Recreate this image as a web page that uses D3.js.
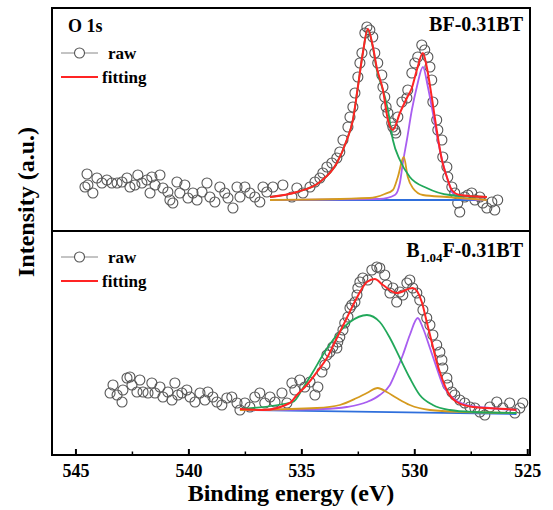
<!DOCTYPE html>
<html>
<head>
<meta charset="utf-8">
<script src="https://cdn.jsdelivr.net/npm/d3@7"></script>
<style>
	body { margin: 0; background: #fff; }
	text { font-family: "Liberation Serif", "Times New Roman", serif; font-weight: bold; }
</style>
</head>
<body>
<div id="chart"></div>
<script>
const width = 553,
			height = 510;

const margin = { left: 52, right: 23, top: 8, bottom: 55 };

// x ticks (binding energy, eV)
const majorTicks = [545, 540, 535, 530, 525];
const minorTicks = [542.5, 537.5, 532.5, 527.5];

// ---- BF-0.31BT (top panel) ----
// raw points [eV, intensity]
const rawTop = [
	[544.60, 44], [544.51, 57], [544.47, 46], [544.25, 38], [544.07, 53], [543.85, 48],
	[543.63, 51], [543.41, 48], [543.18, 48], [542.96, 49], [542.74, 53], [542.61, 44],
	[542.39, 46], [542.26, 56], [542.08, 48], [541.86, 51], [541.72, 38], [541.64, 54],
	[541.50, 46], [541.28, 56], [541.15, 43], [540.93, 39], [540.84, 31], [540.71, 28],
	[540.53, 49], [540.40, 38], [540.18, 46], [540.04, 33], [539.82, 38], [539.64, 31],
	[539.42, 39], [539.20, 48], [539.07, 34], [538.85, 29], [538.63, 44], [538.41, 38],
	[538.27, 33], [538.05, 23], [537.87, 44], [537.74, 34], [537.52, 44], [537.30, 38],
	[537.08, 34], [536.86, 29], [536.72, 44], [536.55, 39], [536.28, 44], [535.84, 46],
	[535.44, 34], [535.22, 43], [534.95, 38], [534.64, 44], [534.42, 49], [534.20, 53],
	[534.07, 58], [533.89, 64], [533.67, 68], [533.45, 73], [533.32, 79], [533.18, 91],
	[532.96, 104], [532.87, 114], [532.74, 124], [532.65, 138], [532.52, 154], [532.43, 168],
	[532.34, 178], [532.21, 198], [532.12, 204], [531.99, 201], [531.86, 194], [531.77, 178],
	[531.64, 168], [531.46, 156], [531.41, 144], [531.33, 134], [531.27, 124], [531.19, 118],
	[531.02, 108], [530.97, 104], [530.88, 101], [530.84, 98], [530.75, 114], [530.57, 129],
	[530.35, 133], [530.31, 141], [530.13, 158], [530.00, 168], [529.87, 174], [529.69, 186],
	[529.56, 181], [529.42, 174], [529.33, 164], [529.25, 151], [529.20, 129], [529.03, 111],
	[528.98, 101], [528.80, 91], [528.76, 74], [528.58, 64], [528.54, 54], [528.36, 44],
	[528.23, 38], [528.10, 28], [528.01, 19], [527.79, 34], [527.65, 36], [527.48, 38],
	[527.34, 31], [527.12, 34], [526.99, 28], [526.81, 23], [526.59, 29], [526.46, 21],
	[526.33, 31]
];
const baseTop = [[536.41, 31], [526.81, 31]];
const peak532Top = [
	[536.41, 34], [535.22, 39], [534.20, 49], [533.45, 68], [533.01, 91], [532.74, 111],
	[532.52, 144], [532.30, 178], [532.08, 201], [531.86, 184], [531.68, 161], [531.41, 141],
	[531.19, 121], [530.97, 91], [530.66, 71], [530.22, 54], [529.47, 43], [528.45, 36],
	[526.81, 34]
];
const peak530Top = [
	[536.41, 31], [531.99, 33], [531.33, 37], [530.97, 41], [530.75, 54], [530.49, 74],
	[530.31, 54], [530.09, 43], [529.64, 36], [528.58, 34], [526.81, 31]
];
const peak529Top = [
	[536.41, 31], [531.55, 32], [530.88, 36], [530.66, 48], [530.53, 68], [530.35, 91],
	[530.13, 121], [529.91, 144], [529.64, 164], [529.42, 144], [529.20, 118], [528.98, 91],
	[528.76, 68], [528.54, 51], [528.32, 38], [528.01, 33], [526.81, 31]
];
const fitTop = [
	[536.41, 34], [535.22, 39], [534.20, 49], [533.45, 68], [533.01, 91], [532.74, 111],
	[532.52, 144], [532.30, 178], [532.08, 202], [531.86, 185], [531.68, 163], [531.41, 141],
	[531.19, 111], [530.97, 101], [530.66, 118], [530.35, 133], [530.13, 143], [529.91, 161],
	[529.64, 178], [529.47, 164], [529.25, 134], [529.03, 101], [528.80, 71], [528.58, 54],
	[528.36, 41], [528.01, 36], [526.81, 34]
];

// ---- B1.04F-0.31BT (bottom panel) ----
const rawBottom = [
	[543.49, 62], [543.36, 70], [543.18, 60], [542.96, 53], [542.92, 65], [542.74, 77],
	[542.61, 78], [542.52, 70], [542.30, 63], [542.17, 75], [542.03, 63], [541.81, 62],
	[541.64, 72], [541.50, 62], [541.28, 68], [541.15, 58], [540.93, 63], [540.75, 55],
	[540.62, 72], [540.49, 60], [540.31, 62], [540.09, 65], [539.95, 58], [539.73, 53],
	[539.51, 62], [539.29, 55], [539.16, 63], [538.94, 58], [538.76, 53], [538.54, 50],
	[538.32, 57], [538.10, 58], [537.87, 52], [537.74, 45], [537.52, 52], [537.30, 48],
	[537.08, 58], [536.86, 62], [536.64, 52], [536.41, 58], [536.19, 53], [535.88, 62],
	[535.66, 52], [535.44, 72], [535.31, 65], [535.09, 75], [534.87, 68], [534.64, 73],
	[534.42, 60], [534.29, 68], [534.11, 83], [533.98, 90], [533.89, 100], [533.76, 103],
	[533.63, 108], [533.45, 107], [533.41, 113], [533.32, 118], [533.18, 125], [533.10, 132],
	[532.96, 138], [532.87, 147], [532.79, 150], [532.65, 153], [532.56, 160], [532.52, 167],
	[532.43, 173], [532.30, 177], [532.08, 175], [531.90, 185], [531.68, 188], [531.55, 187],
	[531.33, 180], [531.24, 170], [531.10, 162], [530.97, 167], [530.80, 153], [530.66, 163],
	[530.53, 160], [530.35, 172], [530.22, 175], [530.09, 167], [529.91, 162], [529.78, 155],
	[529.64, 145], [529.47, 137], [529.33, 130], [529.20, 120], [529.03, 110], [528.89, 103],
	[528.80, 95], [528.76, 87], [528.58, 77], [528.54, 70], [528.36, 63], [528.23, 60],
	[528.01, 55], [527.79, 52], [527.56, 48], [527.34, 47], [527.12, 43], [526.90, 40],
	[526.68, 48], [526.37, 53], [526.10, 47], [525.80, 52], [525.57, 42], [525.35, 47],
	[525.22, 52]
];
const baseBottom = [[537.74, 45], [525.50, 41]];
const peak532Bottom = [
	[537.74, 46], [535.40, 53], [534.95, 67], [534.51, 83], [534.07, 100], [533.45, 120],
	[532.87, 133], [532.12, 140], [531.55, 133], [531.10, 117], [530.66, 97], [530.22, 77],
	[529.78, 60], [529.20, 50], [528.45, 45], [527.43, 43], [525.50, 42]
];
const peak531Bottom = [
	[537.74, 45], [534.33, 47], [533.32, 50], [532.57, 57], [532.12, 62], [531.64, 67],
	[531.24, 63], [530.80, 57], [530.22, 50], [529.33, 45], [527.87, 43], [525.50, 42]
];
const peak529Bottom = [
	[537.74, 45], [534.07, 46], [533.01, 48], [532.12, 53], [531.55, 60], [531.10, 70],
	[530.80, 85], [530.53, 100], [530.22, 120], [529.87, 137], [529.64, 127], [529.33, 107],
	[529.03, 87], [528.76, 70], [528.32, 57], [527.70, 50], [526.68, 47], [525.50, 45]
];
const fitBottom = [
	[537.74, 46], [536.72, 45], [535.53, 52], [535.22, 60], [534.78, 70], [534.33, 83],
	[533.89, 97], [533.45, 117], [533.01, 137], [532.57, 157], [532.12, 173], [531.77, 176],
	[531.41, 170], [530.80, 162], [530.09, 167], [529.69, 153], [529.47, 133], [529.25, 113],
	[529.03, 93], [528.80, 77], [528.54, 63], [528.14, 53], [527.43, 48], [525.93, 46],
	[525.50, 45]
];

const colors = {
	base: "#2f6fdc",
	peak532: "#21a85a",
	peakMid: "#d59a1e",
	peak529: "#a85ef0",
	fit: "#ff2424",
	raw: "#555"
};

const panels = [
	{ top: 8, bottom: 231, domain: [0, 223], raw: rawTop, base: baseTop,
		peaks: [[peak529Top, colors.peak529], [peak530Top, colors.peakMid], [peak532Top, colors.peak532]],
		fit: fitTop, legendY: 53, sample: "BF-0.31BT" },
	{ top: 231, bottom: 455, domain: [0, 224], raw: rawBottom, base: baseBottom,
		peaks: [[peak529Bottom, colors.peak529], [peak531Bottom, colors.peakMid], [peak532Bottom, colors.peak532]],
		fit: fitBottom, legendY: 257, sample: null }
];

const x = d3.scaleLinear()
		.domain([546.06, 524.9])
		.range([margin.left, width - margin.right]);

const svg = d3.select("#chart")
	.append("svg")
		.attr("width", width)
		.attr("height", height);

panels.forEach((p, i) => {
	const y = d3.scaleLinear()
			.domain(p.domain)
			.range([p.bottom, p.top]);

	const line = d3.line()
			.x(d => x(d[0]))
			.y(d => y(d[1]))
			.curve(d3.curveMonotoneX);

	const g = svg.append("g")
			.attr("class", "panel");

	// raw points
	g.append("g")
		.selectAll("circle")
		.data(p.raw)
		.enter()
		.append("circle")
			.attr("cx", d => x(d[0]))
			.attr("cy", d => y(d[1]))
			.attr("r", 5)
			.attr("fill", "none")
			.attr("stroke", colors.raw)
			.attr("stroke-width", 1.1);

	// baseline + components + envelope
	g.append("path")
			.datum(p.base)
			.attr("fill", "none")
			.attr("stroke", colors.base)
			.attr("stroke-width", 1.8)
			.attr("d", line);

	p.peaks.forEach(pk => {
		g.append("path")
				.datum(pk[0])
				.attr("fill", "none")
				.attr("stroke", pk[1])
				.attr("stroke-width", 1.8)
				.attr("d", line);
	});

	g.append("path")
			.datum(p.fit)
			.attr("fill", "none")
			.attr("stroke", colors.fit)
			.attr("stroke-width", 2)
			.attr("d", line);

	// legend
	const lg = g.append("g");
	lg.append("line")
			.attr("x1", 61).attr("x2", 98)
			.attr("y1", p.legendY).attr("y2", p.legendY)
			.attr("stroke", "#888")
			.attr("stroke-width", 1);
	lg.append("circle")
			.attr("cx", 79.5).attr("cy", p.legendY)
			.attr("r", 5)
			.attr("fill", "#fff")
			.attr("stroke", colors.raw)
			.attr("stroke-width", 1.1);
	lg.append("text")
			.attr("x", 108).attr("y", p.legendY + 6)
			.style("font-size", "17px")
			.text("raw");
	lg.append("line")
			.attr("x1", 61).attr("x2", 98)
			.attr("y1", p.legendY + 24).attr("y2", p.legendY + 24)
			.attr("stroke", colors.fit)
			.attr("stroke-width", 2);
	lg.append("text")
			.attr("x", 102).attr("y", p.legendY + 30)
			.style("font-size", "17px")
			.text("fitting");
});

// sample labels
svg.append("text")
		.attr("x", 68).attr("y", 32)
		.style("font-size", "18px")
		.text("O 1s");

svg.append("text")
		.attr("x", 523).attr("y", 31)
		.attr("text-anchor", "end")
		.style("font-size", "20px")
		.text("BF-0.31BT");

const sub = svg.append("text")
		.attr("x", 523).attr("y", 257)
		.attr("text-anchor", "end")
		.style("font-size", "20px");
sub.append("tspan").text("B");
sub.append("tspan").attr("dy", 5).style("font-size", "13px").text("1.04");
sub.append("tspan").attr("dy", -5).text("F-0.31BT");

// frame
svg.append("rect")
		.attr("x", margin.left).attr("y", margin.top)
		.attr("width", width - margin.left - margin.right)
		.attr("height", height - margin.top - margin.bottom)
		.attr("fill", "none")
		.attr("stroke", "#000")
		.attr("stroke-width", 2);

svg.append("line")
		.attr("x1", margin.left).attr("x2", width - margin.right)
		.attr("y1", 231).attr("y2", 231)
		.attr("stroke", "#000")
		.attr("stroke-width", 2);

// x axis, ticks inward
const axisY = height - margin.bottom;
const xAxis = svg.append("g");

xAxis.selectAll(".major")
	.data(majorTicks)
	.enter()
	.append("line")
		.attr("x1", d => x(d)).attr("x2", d => x(d))
		.attr("y1", axisY).attr("y2", axisY - 6)
		.attr("stroke", "#000")
		.attr("stroke-width", 2);

xAxis.selectAll(".minor")
	.data(minorTicks)
	.enter()
	.append("line")
		.attr("x1", d => x(d)).attr("x2", d => x(d))
		.attr("y1", axisY).attr("y2", axisY - 3.5)
		.attr("stroke", "#000")
		.attr("stroke-width", 1.5);

xAxis.selectAll("text")
	.data(majorTicks)
	.enter()
	.append("text")
		.attr("x", d => x(d))
		.attr("y", 477)
		.attr("text-anchor", "middle")
		.style("font-size", "18px")
		.text(d => d);

svg.append("text")
		.attr("x", (margin.left + width - margin.right) / 2)
		.attr("y", 501)
		.attr("text-anchor", "middle")
		.style("font-size", "24px")
		.text("Binding energy (eV)");

svg.append("text")
		.attr("transform", "translate(34, 202) rotate(-90)")
		.attr("text-anchor", "middle")
		.style("font-size", "24px")
		.text("Intensity (a.u.)");
</script>
</body>
</html>
